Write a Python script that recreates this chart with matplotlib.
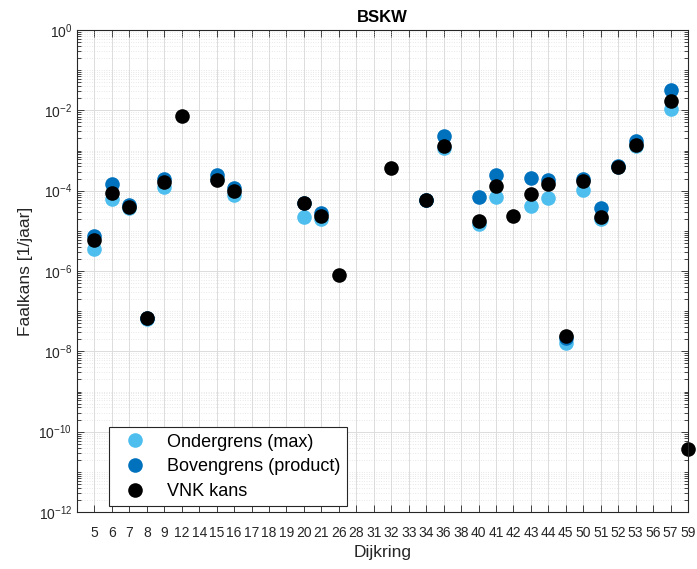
import matplotlib as mpl
mpl.use('Agg')
import matplotlib.pyplot as plt
from matplotlib.ticker import FixedLocator, NullFormatter
import numpy as np

mpl.rcParams['font.family'] = ['Liberation Sans', 'DejaVu Sans']
mpl.rcParams['mathtext.default'] = 'regular'
mpl.rcParams['axes.linewidth'] = 0.8

nan = np.nan

dijkring = ['5', '6', '7', '8', '9', '12', '14', '15', '16', '17', '18', '19',
            '20', '21', '26', '28', '31', '32', '33', '34', '36', '38', '40',
            '41', '42', '43', '44', '45', '50', '51', '52', '53', '56', '57', '59']

ondergrens = [3.5e-6, 6.2e-5, 3.8e-5, 6.3e-8, 1.26e-4, nan, nan, 1.9e-4, 7.8e-5,
              nan, nan, nan, 2.2e-5, 2.0e-5, nan, nan, nan, nan, nan, 6.0e-5,
              1.17e-3, nan, 1.5e-5, 7.1e-5, nan, 4.2e-5, 6.5e-5, 1.6e-8, 1.05e-4,
              2.0e-5, 3.8e-4, 1.3e-3, nan, 1.1e-2, nan]
bovengrens = [7.4e-6, 1.5e-4, 4.4e-5, 6.8e-8, 2.0e-4, nan, nan, 2.5e-4, 1.15e-4,
              nan, nan, nan, 5.0e-5, 2.75e-5, nan, nan, nan, nan, nan, 6.0e-5,
              2.3e-3, nan, 6.8e-5, 2.45e-4, nan, 2.1e-4, 1.85e-4, 2.2e-8, 2.0e-4,
              3.8e-5, 4.0e-4, 1.75e-3, nan, 3.2e-2, nan]
vnk = [5.9e-6, 8.9e-5, 4.0e-5, 6.9e-8, 1.6e-4, 7.1e-3, nan, 1.8e-4, 1.0e-4,
       nan, nan, nan, 5.0e-5, 2.4e-5, 7.9e-7, nan, nan, 3.7e-4, nan, 6.0e-5,
       1.3e-3, nan, 1.8e-5, 1.3e-4, 2.3e-5, 8.5e-5, 1.5e-4, 2.45e-8, 1.7e-4,
       2.2e-5, 3.8e-4, 1.4e-3, nan, 1.7e-2, 3.7e-11]

col_light = '#4DBEEE'
col_dark = '#0072BD'
axcol = '#262626'

fig = plt.figure(figsize=(6.97, 5.69), dpi=100)
ax = fig.add_axes((77/697, 1 - 512/569, 611/697, 482/569))

x = np.arange(1, len(dijkring) + 1)
ms = 10.5
ax.plot(x, ondergrens, 'o', color=col_light, ms=ms, mec='none', label='Ondergrens (max)')
ax.plot(x, bovengrens, 'o', color=col_dark, ms=ms, mec='none', label='Bovengrens (product)')
ax.plot(x, vnk, 'o', color='black', ms=ms, mec='none', label='VNK kans')

ax.set_yscale('log')
ax.set_ylim(1e-12, 1e0)
ax.set_xlim(0, len(dijkring))
for ln in ax.lines:
    ln.set_clip_on(False)

ax.set_xticks(x)
ax.set_xticklabels(dijkring)
major = [10.0 ** e for e in range(-12, 1, 2)]
ax.yaxis.set_major_locator(FixedLocator(major))
ax.set_yticklabels([r'$10^{%d}$' % e for e in range(-12, 1, 2)])
minor = []
for e in range(-12, 0):
    for s in range(2, 10):
        minor.append(s * 10.0 ** e)
    if e % 2 != 0:
        minor.append(10.0 ** e)
ax.yaxis.set_minor_locator(FixedLocator(minor))
ax.yaxis.set_minor_formatter(NullFormatter())

ax.tick_params(which='both', direction='in', top=True, right=True, colors=axcol,
               labelsize=10, width=0.6)
ax.tick_params(which='major', length=5)
ax.tick_params(which='minor', length=3)
ax.tick_params(axis='x', pad=10)
for sp in ax.spines.values():
    sp.set_color(axcol)

ax.grid(True, which='major', axis='both', color='#dcdcdc', linewidth=0.7)
ax.grid(True, which='minor', axis='y', color='#d4d4d4', linestyle=(0, (1, 2.5)),
        linewidth=0.5)
ax.set_axisbelow(True)

ax.set_title('BSKW', fontsize=12, fontweight='bold', pad=6)
ax.set_xlabel('Dijkring', fontsize=12.5, color=axcol)
ax.set_ylabel('Faalkans [1/jaar]', fontsize=12.5, color=axcol)

leg = ax.legend(loc='lower left', bbox_to_anchor=(0.052, 0.012), borderaxespad=0,
                fontsize=13, fancybox=False, framealpha=1, edgecolor=axcol,
                handletextpad=0.7, borderpad=0.35, labelspacing=0.42,
                handlelength=2.2)
leg.get_frame().set_linewidth(0.8)

fig.savefig('out.png', dpi=100)
